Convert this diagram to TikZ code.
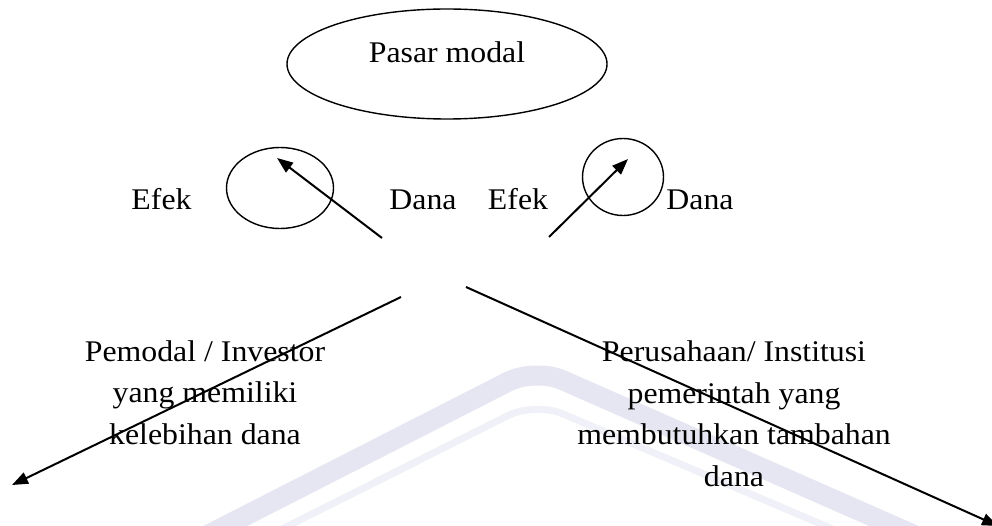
\documentclass[tikz,border=0pt]{standalone}
\usepackage{fontspec}
\setmainfont{Liberation Serif}[FakeStretch=1.06]
\usetikzlibrary{arrows.meta,shapes.geometric}
\definecolor{wmA}{RGB}{230,230,242}
\definecolor{wmB}{RGB}{240,240,248}
\begin{document}
\begin{tikzpicture}[x=1pt,y=-1pt,
  lbl/.style={font=\fontsize{30}{41.5}\selectfont, inner sep=0pt, anchor=base},
  blk/.style={lbl, align=center},
  oval/.style={draw, line width=1.4pt, ellipse, inner sep=0pt},
  arr/.style={line width=2pt, -{Triangle[length=16pt,width=12pt]}},
  wmband/.style={draw=wmA, line width=20pt, rounded corners=30pt},
  wmline/.style={draw=wmB, line width=7pt, rounded corners=30pt}
]
\useasboundingbox (0,0) rectangle (992,526);
\fill[white] (0,0) rectangle (992,526);
% faint watermark
\draw[wmband] (188,545) -- (535,368) -- (937,545);
\draw[wmline] (250,545) -- (535,402) -- (870,545);

% top ellipse
\node[oval, minimum width=320pt, minimum height=110pt] (pasar) at (447,64) {};
\node[lbl] (pasartext) at (447,63) {Pasar modal};

% small circles
\node[oval, minimum width=107pt, minimum height=81pt] (c1) at (280,188) {};
\node[oval, minimum width=81pt, minimum height=77pt] (c2) at (623,177) {};

% labels
\node[lbl] (efek1) at (161.5,210) {Efek};
\node[lbl] (dana1) at (423,210) {Dana};
\node[lbl] (efek2) at (518,210) {Efek};
\node[lbl] (dana2) at (700,210) {Dana};

% text blocks (base anchor = last line)
\node[blk] (investor) at (205,444) {Pemodal / Investor\\yang memiliki\\kelebihan dana};
\node[blk] (perusahaan) at (734,486) {Perusahaan/ Institusi\\pemerintah yang\\membutuhkan tambahan\\dana};

% arrows
\coordinate (s1) at (382,238);
\coordinate (t1) at (277,158);
\coordinate (s2) at (549,237);
\coordinate (t2) at (628,159);
\coordinate (s3) at (401,297);
\coordinate (t3) at (12,485);
\coordinate (s4) at (466,287);
\coordinate (t4) at (998,526);
\draw[arr] (s1) -- (t1);
\draw[arr] (s2) -- (t2);
\draw[arr] (s3) -- (t3);
\draw[arr] (s4) -- (t4);
\end{tikzpicture}
\end{document}
